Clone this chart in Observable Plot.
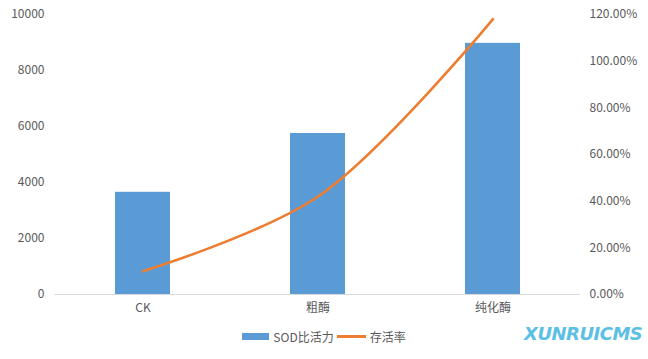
<!DOCTYPE html>
<html>
<head>
<meta charset="utf-8">
<script src="https://cdn.jsdelivr.net/npm/d3@7"></script>
<script src="https://cdn.jsdelivr.net/npm/@observablehq/plot@0.6"></script>
<style>
  html, body { margin: 0; padding: 0; background: #fff; }
  body { width: 648px; height: 359px; position: relative; overflow: hidden;
         font-family: "Microsoft YaHei", "Noto Sans CJK SC", sans-serif; }
  #legend { position: absolute; left: 0; top: 328px; width: 648px; display: flex; justify-content: center;
            align-items: center; font-size: 12px; color: #595959; }
  #legend .item { display: flex; align-items: center; }
  #legend .sw-bar { width: 27px; height: 7px; background: #5b9bd5; margin-right: 4px; }
  #legend .sw-line { width: 29px; height: 2.5px; background: #ed7d31; margin: 0 4px 0 3px; }
  #wm { position: absolute; left: 524px; top: 323px; font: italic bold 18px "DejaVu Sans", sans-serif;
        color: #5cc0e4; letter-spacing: -0.5px; }
</style>
</head>
<body>
<div id="chart"></div>
<div id="legend">
  <div class="item"><span class="sw-bar"></span><span>SOD比活力</span></div>
  <div class="item"><span class="sw-line"></span><span>存活率</span></div>
</div>
<div id="wm">XUNRUICMS</div>
<script>
const categories = ["CK", "粗酶", "纯化酶"];
const sodActivity = [3650, 5750, 8970];
const survivalRate = [0.10, 0.42, 1.18];
const leftTicks = [0, 2000, 4000, 6000, 8000, 10000];
const rightTicks = [0, 0.2, 0.4, 0.6, 0.8, 1.0, 1.2];

const leftMax = 10000, rightMax = 1.2;
const toLeft = p => p / rightMax * leftMax;

const data = categories.map((c, i) => ({cat: c, sod: sodActivity[i], rate: survivalRate[i]}));

const chart = Plot.plot({
  width: 648,
  height: 320,
  marginTop: 14,
  marginBottom: 26,
  marginLeft: 54,
  marginRight: 68,
  style: {fontFamily: '"Microsoft YaHei", "Noto Sans CJK SC", sans-serif', fontSize: "12px", color: "#595959"},
  x: {domain: categories, padding: 0},
  y: {domain: [0, leftMax]},
  marks: [
    Plot.barY(data, {x: "cat", y: "sod", fill: "#5b9bd5", insetLeft: 60, insetRight: 60}),
    Plot.ruleY([0], {stroke: "#d9d9d9", strokeWidth: 1}),
    Plot.line(data, {x: "cat", y: d => toLeft(d.rate), stroke: "#ed7d31", strokeWidth: 2.6, curve: "catmull-rom"}),
    Plot.axisX({tickSize: 0, tickPadding: 9, label: null, fill: "#595959"}),
    Plot.axisY({anchor: "left", ticks: leftTicks, tickSize: 0, tickPadding: 10, label: null, tickFormat: d => String(d), fill: "#595959"}),
    Plot.axisY({anchor: "right", ticks: rightTicks.map(toLeft), tickSize: 0, tickPadding: 9, label: null,
      tickFormat: v => (v / leftMax * rightMax * 100).toFixed(2) + "%", fill: "#595959"})
  ]
});
document.getElementById("chart").appendChild(chart);
</script>
</body>
</html>
